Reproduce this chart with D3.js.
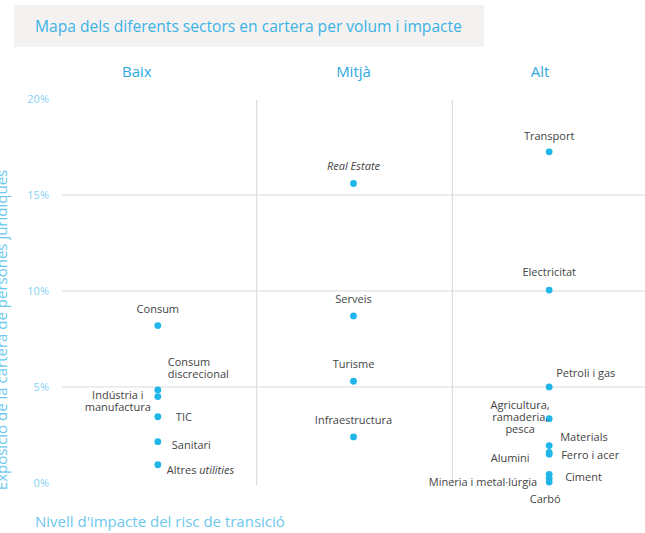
<!DOCTYPE html>
<meta charset="utf-8">
<title>Mapa dels diferents sectors</title>
<style>
body { margin: 0; background: #fff; }
svg { font-family: "Open Sans", "Noto Sans", sans-serif; display: block; }
.tick-label { fill: #84d2f1; font-size: 11px; }
.header { fill: #2fa9df; font-size: 15px; }
.lbl { fill: #444; font-size: 11px; }
.grid { stroke: #dcdcdc; stroke-width: 1.2px; }
</style>
<body>
<svg></svg>
<script src="https://d3js.org/d3.v7.min.js"></script>
<script>

var width = 645,
    height = 533;

// impact levels (columns)
var levels = ["Baix", "Mitjà", "Alt"];
var yTicks = [0, 5, 10, 15, 20];

// sectors per level, exposure in % of the portfolio
var baixSectors = ["Consum", "Consum discrecional", "Indústria i manufactura", "TIC", "Sanitari", "Altres utilities"];
var baixValues  = [8.2, 4.85, 4.5, 3.45, 2.15, 0.95];

var mitjaSectors = ["Real Estate", "Serveis", "Turisme", "Infraestructura"];
var mitjaValues  = [15.6, 8.7, 5.3, 2.4];

var altSectors = ["Transport", "Electricitat", "Petroli i gas", "Agricultura, ramaderia, pesca", "Materials", "Ferro i acer", "Alumini", "Ciment", "Mineria i metal·lúrgia", "Carbó"];
var altValues  = [17.25, 10.05, 5.0, 3.35, 1.95, 1.6, 1.5, 0.45, 0.25, 0.05];

// where each label sits relative to its dot (dy = offset of the first line's centre)
var labelPos = {
    "Consum": {dx: 0, dy: -16.5, anchor: "middle"},
    "Consum discrecional": {dx: 10, dy: -28, anchor: "start", lines: ["Consum", "discrecional"]},
    "Indústria i manufactura": {dx: -40, dy: -1.5, anchor: "middle", lines: ["Indústria i", "manufactura"]},
    "TIC": {dx: 18, dy: 0.5, anchor: "start"},
    "Sanitari": {dx: 14, dy: 3, anchor: "start"},
    "Altres utilities": {dx: 9, dy: 5, anchor: "start", italic: "utilities"},
    "Real Estate": {dx: 0, dy: -17, anchor: "middle", italicAll: true},
    "Serveis": {dx: 0, dy: -17, anchor: "middle"},
    "Turisme": {dx: 0, dy: -17, anchor: "middle"},
    "Infraestructura": {dx: 0, dy: -17, anchor: "middle"},
    "Transport": {dx: 0, dy: -16, anchor: "middle"},
    "Electricitat": {dx: 0, dy: -18, anchor: "middle"},
    "Petroli i gas": {dx: 7, dy: -14, anchor: "start"},
    "Agricultura, ramaderia, pesca": {dx: -29, dy: -14, anchor: "middle", lines: ["Agricultura,", "ramaderia,", "pesca"]},
    "Materials": {dx: 11, dy: -9, anchor: "start"},
    "Ferro i acer": {dx: 12, dy: 3, anchor: "start"},
    "Alumini": {dx: -39, dy: 4, anchor: "middle"},
    "Ciment": {dx: 16, dy: 3, anchor: "start"},
    "Mineria i metal·lúrgia": {dx: -12, dy: 4, anchor: "end"},
    "Carbó": {dx: -4, dy: 17, anchor: "middle"}
};

var points = []
    .concat(baixSectors.map((s, i) => ({level: "Baix", sector: s, value: baixValues[i]})))
    .concat(mitjaSectors.map((s, i) => ({level: "Mitjà", sector: s, value: mitjaValues[i]})))
    .concat(altSectors.map((s, i) => ({level: "Alt", sector: s, value: altValues[i]})));

var svg = d3.select("svg").attr("width", width).attr("height", height);

var x = d3.scaleBand().domain(levels).range([60, 647]),
    y = d3.scaleLinear().domain([0, 20]).range([483, 99]);

// title box
svg.append("rect")
    .attr("x", 14).attr("y", 5).attr("width", 470).attr("height", 42)
    .attr("fill", "#f3f2f1");
svg.append("text")
    .attr("x", 35).attr("y", 32)
    .attr("fill", "#3cb2e4")
    .style("font-size", "15.6px")
    .text("Mapa dels diferents sectors en cartera per volum i impacte");

// column headers
svg.append("g").selectAll("text")
    .data(levels)
    .join("text")
    .attr("class", "header")
    .attr("x", (d, i) => x(d) + x.bandwidth() / 2 - (i == 0 ? 21 : i == 2 ? 9 : 0))
    .attr("y", 77)
    .attr("text-anchor", "middle")
    .text(d => d);

// horizontal grid lines
svg.append("g").selectAll("line")
    .data(yTicks.filter(t => t > 0 && t < 20))
    .join("line")
    .attr("class", "grid")
    .attr("x1", 62).attr("x2", width)
    .attr("y1", d => y(d)).attr("y2", d => y(d));

// column separators
svg.append("g").selectAll("line")
    .data(levels.slice(1))
    .join("line")
    .attr("class", "grid")
    .attr("x1", d => x(d) + 1).attr("x2", d => x(d) + 1)
    .attr("y1", y(20) + 1).attr("y2", y(0) + 2);

// y tick labels
svg.append("g").selectAll("text")
    .data(yTicks)
    .join("text")
    .attr("class", "tick-label")
    .attr("x", 49)
    .attr("y", d => y(d) + 4)
    .attr("text-anchor", "end")
    .text(d => d + "%");

// axis titles (the rotated one is cut by the left edge, as in the original)
svg.append("text")
    .attr("transform", "translate(7," + 330 + ") rotate(-90)")
    .attr("text-anchor", "middle")
    .attr("fill", "#6cc8ee")
    .style("font-size", "15px")
    .text("Exposició de la cartera de persones jurídiques");

svg.append("text")
    .attr("x", 35).attr("y", 527)
    .attr("fill", "#6cc8ee")
    .style("font-size", "15px")
    .text("Nivell d'impacte del risc de transició");

var cx = d => x(d.level) + x.bandwidth() / 2;

// dots
svg.append("g").selectAll("circle")
    .data(points)
    .join("circle")
    .attr("cx", cx)
    .attr("cy", d => y(d.value))
    .attr("r", 3.4)
    .attr("fill", "#21b6ea");

// labels
var labels = svg.append("g").selectAll("text")
    .data(points)
    .join("text")
    .attr("class", "lbl")
    .attr("text-anchor", d => labelPos[d.sector].anchor)
    .attr("x", d => cx(d) + labelPos[d.sector].dx)
    .attr("y", d => y(d.value) + labelPos[d.sector].dy + 4);

labels.each(function(d) {
    var p = labelPos[d.sector], t = d3.select(this);
    if (p.lines) {
        p.lines.forEach((l, i) => {
            t.append("tspan")
                .attr("x", cx(d) + p.dx)
                .attr("dy", i == 0 ? 0 : 12.3)
                .text(l);
        });
    } else if (p.italic) {
        var plain = d.sector.replace(p.italic, "");
        t.append("tspan").text(plain);
        t.append("tspan").style("font-style", "italic").text(p.italic);
    } else {
        t.style("font-style", p.italicAll ? "italic" : null).text(d.sector);
    }
});

</script>
</body>
